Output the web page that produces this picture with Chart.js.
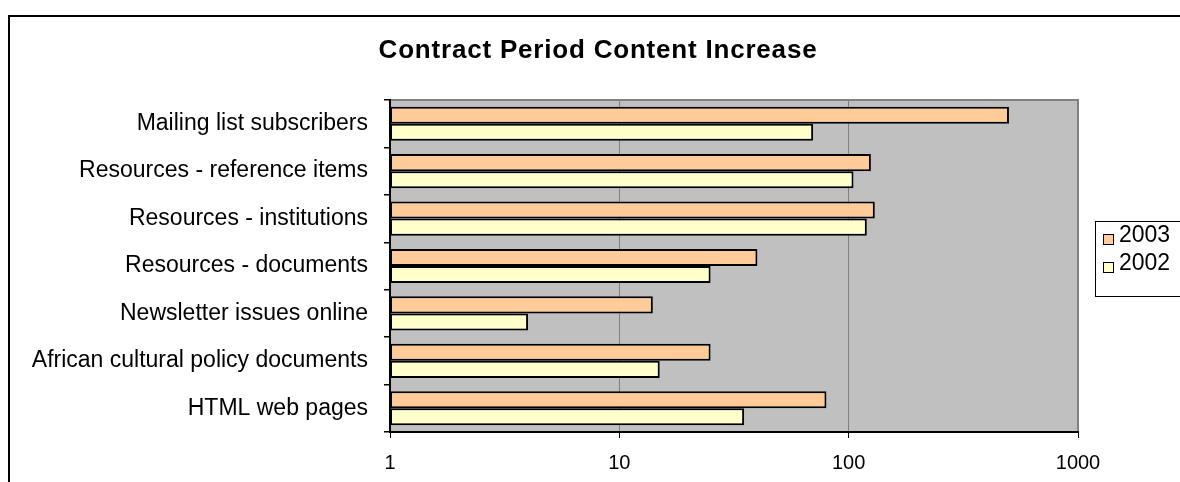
<!DOCTYPE html>
<html>
  <head>
    <title>Contract Period Content Increase</title>
    <script src="https://cdn.jsdelivr.net/npm/chart.js"></script>
    <style>
      body { margin: 0; background: #fff; }
    </style>
  </head>
  <body>
    <canvas id="contentChart" width="1180" height="482"></canvas>

    <script>
      const categories = [
        "Mailing list subscribers",
        "Resources - reference items",
        "Resources - institutions",
        "Resources - documents",
        "Newsletter issues online",
        "African cultural policy documents",
        "HTML web pages",
      ];
      const seriesNames = ["2003", "2002"];
      const values2003 = [500, 125, 130, 40, 14, 25, 80];
      const values2002 = [70, 105, 120, 25, 4, 15, 35];
      const xTicks = [1, 10, 100, 1000];
      const chartTitle = "Contract Period Content Increase";

      const FONT = "'Liberation Sans', Arial, sans-serif";

      // grey plot area, outer frame, title and legend box on the right
      const framePlugin = {
        id: "frame",
        beforeDraw(chart) {
          const ctx = chart.ctx;
          const a = chart.chartArea;
          ctx.save();
          ctx.fillStyle = "#fff";
          ctx.fillRect(0, 0, chart.width, chart.height);
          ctx.strokeStyle = "#000";
          ctx.lineWidth = 2;
          ctx.strokeRect(9, 16, chart.width + 20, chart.height + 20);
          ctx.fillStyle = "#c0c0c0";
          ctx.fillRect(a.left, a.top, a.right - a.left, a.bottom - a.top);
          ctx.strokeStyle = "#808080";
          ctx.strokeRect(a.left, a.top, a.right - a.left, a.bottom - a.top);

          ctx.fillStyle = "#000";
          ctx.font = "bold 26px " + FONT;
          ctx.textAlign = "center";
          ctx.textBaseline = "middle";
          ctx.letterSpacing = "0.8px";
          ctx.fillText(chartTitle, 598, 51);
          ctx.restore();
        },
        afterDraw(chart) {
          const ctx = chart.ctx;
          ctx.save();
          ctx.lineWidth = 1;
          ctx.strokeStyle = "#000";
          ctx.fillStyle = "#fff";
          ctx.fillRect(1095.5, 221.5, 120, 75);
          ctx.strokeRect(1095.5, 221.5, 120, 75);
          ctx.font = "23px " + FONT;
          ctx.textBaseline = "middle";
          chart.data.datasets.forEach((ds, i) => {
            const y = 234 + i * 28;
            ctx.fillStyle = ds.backgroundColor;
            ctx.fillRect(1103.5, y + 0.5, 10, 10);
            ctx.strokeRect(1103.5, y + 0.5, 10, 10);
            ctx.fillStyle = "#000";
            ctx.fillText(ds.label, 1119, y + 2);
          });
          ctx.restore();
        },
      };

      const ctx = document.getElementById("contentChart").getContext("2d");
      new Chart(ctx, {
        type: "bar",
        data: {
          labels: categories,
          datasets: [
            {
              label: seriesNames[0],
              data: values2003,
              backgroundColor: "#ffcc99",
            },
            {
              label: seriesNames[1],
              data: values2002,
              backgroundColor: "#ffffcc",
            },
          ],
        },
        options: {
          indexAxis: "y",
          responsive: false,
          animation: false,
          devicePixelRatio: 1,
          layout: { padding: { left: 20, right: 102, top: 100, bottom: 0 } },
          datasets: {
            bar: {
              borderColor: "#000",
              borderWidth: 2,
              borderSkipped: false,
              barPercentage: 1,
              categoryPercentage: 0.72,
            },
          },
          plugins: {
            legend: { display: false },
            tooltip: { enabled: false },
          },
          scales: {
            x: {
              type: "logarithmic",
              min: 1,
              max: 1000,
              afterBuildTicks(scale) {
                scale.ticks = xTicks.map((v) => ({ value: v }));
              },
              afterFit(scale) {
                scale.height = 50;
                scale.paddingLeft = 0;
                scale.paddingRight = 0;
              },
              grid: {
                color: "#808080",
                lineWidth: 1,
                tickColor: "#000",
                tickLength: 6,
              },
              border: { color: "#000", width: 2 },
              ticks: {
                color: "#000",
                font: { family: FONT, size: 20 },
                padding: 13,
                maxRotation: 0,
                callback: (v) => String(v),
              },
            },
            y: {
              afterFit(scale) {
                scale.width = 370;
                scale.paddingTop = 0;
                scale.paddingBottom = 0;
              },
              grid: {
                drawOnChartArea: false,
                offset: true,
                tickColor: "#000",
                tickLength: 6,
                lineWidth: 1.5,
              },
              border: { color: "#000", width: 2 },
              ticks: {
                color: "#000",
                font: { family: FONT, size: 23 },
                padding: 16,
                autoSkip: false,
              },
            },
          },
        },
        plugins: [framePlugin],
      });
    </script>
  </body>
</html>
